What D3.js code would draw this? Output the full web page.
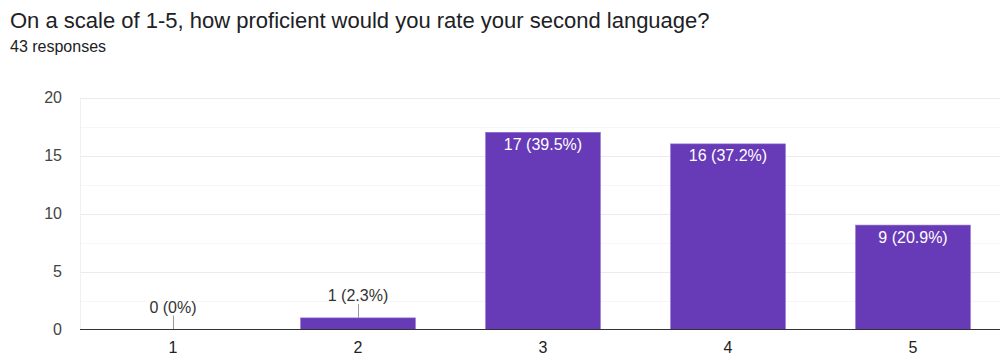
<!DOCTYPE html>
<html>
<head>
<meta charset="utf-8">
<script src="https://cdn.jsdelivr.net/npm/d3@7/dist/d3.min.js"></script>
<style>
  html, body { margin: 0; padding: 0; background: #fff; }
  svg { display: block; }
</style>
</head>
<body>
<svg id="chart" width="1000" height="356"></svg>
<script>
const title = "On a scale of 1-5, how proficient would you rate your second language?";
const subtitle = "43 responses";
const categories = ["1", "2", "3", "4", "5"];
const counts = [0, 1, 17, 16, 9];
const percents = ["0%", "2.3%", "39.5%", "37.2%", "20.9%"];
const yTicks = [0, 5, 10, 15, 20];
const yMinorTicks = [2.5, 7.5, 12.5, 17.5];

const svg = d3.select("#chart");
const plot = { left: 80, right: 1000, top: 97.5, bottom: 329.5 };
const font = "Arial, 'Liberation Sans', sans-serif";

const x = d3.scaleBand()
  .domain(categories)
  .range([80.5, 1005.5])
  .paddingInner(0.38)
  .paddingOuter(0.19);

const y = d3.scaleLinear().domain([0, 20]).range([plot.bottom, plot.top]);

// header
svg.append("text")
  .attr("x", 10).attr("y", 28)
  .attr("font-family", font)
  .attr("font-size", 22)
  .attr("fill", "#202124")
  .text(title);
svg.append("text")
  .attr("x", 10).attr("y", 52)
  .attr("font-family", font)
  .attr("font-size", 16)
  .attr("fill", "#202124")
  .text(subtitle);

// gridlines
svg.append("g").selectAll("line").data(yMinorTicks).join("line")
  .attr("x1", plot.left).attr("x2", plot.right)
  .attr("y1", d => Math.round(y(d)) + 0.5).attr("y2", d => Math.round(y(d)) + 0.5)
  .attr("stroke", "#f6f6f6");
svg.append("g").selectAll("line").data(yTicks.filter(d => d > 0)).join("line")
  .attr("x1", plot.left).attr("x2", plot.right)
  .attr("y1", d => Math.round(y(d)) + 0.5).attr("y2", d => Math.round(y(d)) + 0.5)
  .attr("stroke", "#ebebeb");
svg.append("line")
  .attr("x1", plot.left + 0.5).attr("x2", plot.left + 0.5)
  .attr("y1", plot.top).attr("y2", plot.bottom)
  .attr("stroke", "#f0f0f0");

// y axis labels
const yAxis = d3.axisLeft(y).tickValues(yTicks).tickSize(0).tickPadding(0);
const yg = svg.append("g").attr("transform", "translate(62,0)").call(yAxis);
yg.select(".domain").remove();
yg.selectAll("text")
  .attr("font-family", font)
  .attr("font-size", 16)
  .attr("fill", "#444");

// bars
svg.append("g").selectAll("rect").data(counts).join("rect")
  .attr("x", (d, i) => x(categories[i]))
  .attr("width", x.bandwidth())
  .attr("y", d => y(d))
  .attr("height", d => plot.bottom - y(d))
  .attr("fill", "#673ab7")
  .attr("stroke", "#8c6bd0")
  .attr("stroke-width", d => d > 0 ? 0.6 : 0);

// value labels: inside tall bars, above short ones with a leader line
counts.forEach((d, i) => {
  const cx = x(categories[i]) + x.bandwidth() / 2;
  const label = `${d} (${percents[i]})`;
  const barH = plot.bottom - y(d);
  if (barH > 24) {
    svg.append("text")
      .attr("x", cx).attr("y", y(d) + 17.5)
      .attr("text-anchor", "middle")
      .attr("font-family", font).attr("font-size", 16)
      .attr("fill", "#fff")
      .text(label);
  } else {
    const top = y(d);
    svg.append("line")
      .attr("x1", Math.round(cx) + 0.5).attr("x2", Math.round(cx) + 0.5)
      .attr("y1", top).attr("y2", top - 14)
      .attr("stroke", "#999").attr("stroke-width", 1);
    svg.append("text")
      .attr("x", cx).attr("y", top - 17)
      .attr("text-anchor", "middle")
      .attr("font-family", font).attr("font-size", 16)
      .attr("fill", "#333")
      .text(label);
  }
});

// x axis
const xAxis = d3.axisBottom(x).tickSize(0).tickPadding(0);
const xg = svg.append("g").attr("transform", `translate(0,${plot.bottom})`).call(xAxis);
xg.select(".domain").remove();
xg.selectAll("text")
  .attr("dy", null)
  .attr("y", 23.5)
  .attr("font-family", font)
  .attr("font-size", 16)
  .attr("fill", "#222");
svg.append("line")
  .attr("x1", plot.left).attr("x2", plot.right)
  .attr("y1", plot.bottom).attr("y2", plot.bottom)
  .attr("stroke", "#333").attr("stroke-width", 1);
</script>
</body>
</html>
